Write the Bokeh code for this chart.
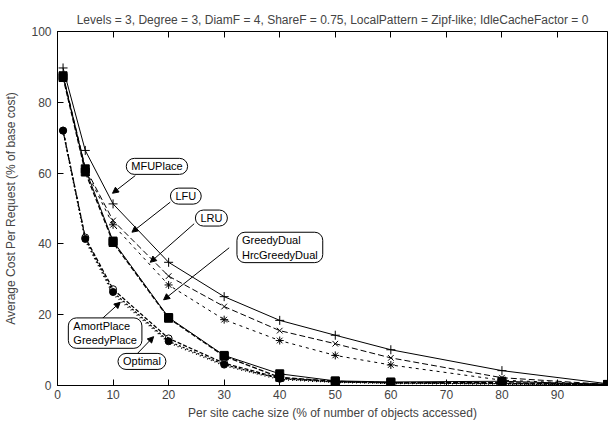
from bokeh.plotting import figure
from bokeh.models import Range1d, LinearAxis, Label, Arrow, NormalHead, FixedTicker
from bokeh.embed import file_html
from bokeh.resources import INLINE

# ---- data ----
cache_size = [1, 5, 10, 20, 30, 40, 50, 60, 80, 99]
mfuplace = [89.7, 66.4, 51.3, 34.8, 25.1, 18.4, 14.2, 10.1, 4.2, 0.5]
lfu = [87.8, 61.5, 46.6, 30.9, 22.3, 15.5, 11.8, 7.8, 2.2, 0.3]
lru = [87.5, 61.0, 45.4, 28.4, 18.6, 12.7, 8.5, 5.8, 1.5, 0.3]
greedydual = [87.5, 61.2, 40.8, 19.2, 8.5, 3.3, 1.3, 1.0, 1.2, 0.3]
hrcgreedydual = [87.0, 60.3, 40.4, 19.0, 8.3, 2.3, 1.2, 0.8, 0.8, 0.3]
amortplace = [72.0, 41.8, 27.2, 13.3, 6.3, 2.1, 1.1, 0.8, 0.6, 0.2]
greedyplace = [72.0, 41.4, 26.4, 12.5, 5.9, 1.9, 1.0, 0.7, 0.5, 0.2]
optimal = [72.0, 41.0, 25.8, 12.1, 5.6, 1.7, 0.9, 0.6, 0.4, 0.2]

x_ticks = [0, 10, 20, 30, 40, 50, 60, 70, 80, 90]
y_ticks = [0, 20, 40, 60, 80, 100]

title_text = "Levels = 3, Degree = 3, DiamF = 4, ShareF = 0.75, LocalPattern = Zipf-like; IdleCacheFactor = 0"
x_label = "Per site cache size (% of number of objects accessed)"
y_label = "Average Cost Per Request (% of base cost)"

FONT = "Liberation Sans"

p = figure(width=608, height=425, output_backend="svg", toolbar_location=None,
           x_range=Range1d(0, 99), y_range=Range1d(0, 100),
           min_border_left=57, min_border_right=1, min_border_top=31, min_border_bottom=40)

p.title.text = title_text
p.title.align = "center"
p.title.text_font = FONT
p.title.text_font_size = "12px"
p.title.text_font_style = "normal"
p.title.standoff = 10

p.xgrid.visible = False
p.ygrid.visible = False
p.outline_line_color = "black"
p.outline_line_width = 1
p.background_fill_color = "white"
p.border_fill_color = "white"

for ax in (p.xaxis[0], p.yaxis[0]):
    ax.major_tick_in = 6
    ax.major_tick_out = 0
    ax.minor_tick_in = 0
    ax.minor_tick_out = 0
    ax.major_label_text_font = FONT
    ax.major_label_text_font_size = "12px"
    ax.axis_label_text_font = FONT
    ax.axis_label_text_font_size = "12px"
    ax.axis_label_text_font_style = "normal"
    ax.axis_line_color = "black"
    ax.major_tick_line_color = "black"

p.xaxis[0].ticker = FixedTicker(ticks=x_ticks)
p.yaxis[0].ticker = FixedTicker(ticks=y_ticks)
p.xaxis[0].axis_label = x_label
p.yaxis[0].axis_label = y_label
p.xaxis[0].major_label_standoff = 4
p.xaxis[0].axis_label_standoff = 4
p.yaxis[0].major_label_standoff = 6
p.yaxis[0].axis_label_standoff = 10

top_axis = LinearAxis(ticker=FixedTicker(ticks=x_ticks), major_tick_in=6, major_tick_out=0,
                      minor_tick_in=0, minor_tick_out=0,
                      major_label_text_color=None, major_label_text_font_size="2px",
                      major_label_standoff=0, axis_line_color="black")
p.add_layout(top_axis, "above")

# ---- series ----
p.line(cache_size, mfuplace, line_color="black", line_width=1)
p.scatter(cache_size, mfuplace, marker="cross", size=9, line_color="black", fill_color=None)

p.line(cache_size, lfu, line_color="black", line_width=1, line_dash="6 3")
p.scatter(cache_size, lfu, marker="x", size=8, line_color="black", fill_color=None)

p.line(cache_size, lru, line_color="black", line_width=1, line_dash="3 4")
p.scatter(cache_size, lru, marker="asterisk", size=8, line_color="black", fill_color=None)

p.line(cache_size, greedydual, line_color="black", line_width=1)
p.scatter(cache_size, greedydual, marker="square", size=8, line_color="black", fill_color="black")

p.line(cache_size, hrcgreedydual, line_color="black", line_width=1.3, line_dash="5 2")
p.scatter(cache_size, hrcgreedydual, marker="square", size=8, line_color="black", fill_color="black")

p.line(cache_size, amortplace, line_color="black", line_width=1.3, line_dash="4 2")
p.scatter(cache_size, amortplace, marker="circle", size=7, line_color="black", fill_color=None)

p.line(cache_size, greedyplace, line_color="black", line_width=1.3, line_dash="2 2")
p.scatter(cache_size, greedyplace, marker="circle", size=7, line_color="black", fill_color="black")

p.line(cache_size, optimal, line_color="black", line_width=1.5, line_dash="1 3")

# ---- callouts ----
def callout(text, x, y, align="center"):
    lab = Label(x=x, y=y, text=text, text_align=align, text_baseline="middle",
                text_font=FONT, text_font_size="11px", text_color="black",
                background_fill_color="white", border_line_color="black",
                border_line_width=1, padding=(5, 2), border_radius=8)
    p.add_layout(lab)

def arrow(x0, y0, x1, y1):
    p.add_layout(Arrow(end=NormalHead(size=6, fill_color="black", line_color="black"),
                       x_start=x0, y_start=y0, x_end=x1, y_end=y1,
                       line_color="black", line_width=1))

arrow(14.0, 59.3, 9.9, 54.3)
arrow(20.3, 51.8, 13.4, 43.3)
arrow(24.6, 45.7, 16.7, 34.8)
arrow(30.9, 38.9, 19.1, 24.2)
arrow(7.7, 18.4, 11.3, 23.5)
arrow(14.3, 8.9, 17.3, 13.8)

callout("MFUPlace", 17.9, 61.9)
callout("LFU", 23.1, 53.5)
callout("LRU", 27.7, 47.3)
callout("GreedyDual\nHrcGreedyDual", 32.3, 39.0, align="left")
callout("AmortPlace\nGreedyPlace", 1.95, 14.8, align="left")
callout("Optimal", 15.2, 6.8)

open("out.html", "w").write(file_html(p, INLINE))
